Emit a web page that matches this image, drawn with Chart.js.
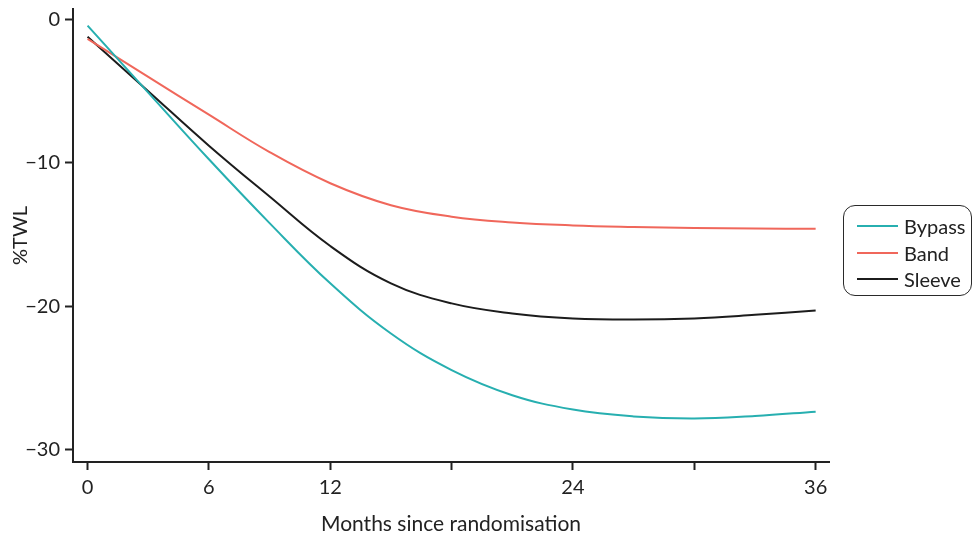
<!DOCTYPE html>
<html>
<head>
<meta charset="utf-8">
<script src="https://cdn.jsdelivr.net/npm/chart.js@4/dist/chart.umd.min.js"></script>
<style>
  html, body { margin: 0; padding: 0; background: #fff; }
  #wrap { position: relative; width: 975px; height: 544px; }
  #legend {
    position: absolute; left: 843px; top: 205px; width: 129px; height: 91px;
    border: 1.5px solid #2a2a2a; border-radius: 12px; box-sizing: border-box;
    font-family: Lato, sans-serif; font-size: 20px; color: #222;
  }
  .item { position: absolute; left: 13px; height: 24px; display: flex; align-items: center; }
  .swatch { width: 41px; height: 2px; margin-right: 6px; }
</style>
</head>
<body>
<div id="wrap">
  <canvas id="c" width="975" height="544"></canvas>
  <div id="legend"></div>
</div>
<script>
const months = [0, 3, 6, 9, 12, 15, 18, 21, 24, 27, 30, 33, 36];
const bypass = [-0.43, -5.1, -9.75, -14.2, -18.4, -21.9, -24.45, -26.2, -27.2, -27.68, -27.83, -27.65, -27.35];
const band   = [-1.36, -4.0, -6.64, -9.25, -11.42, -12.95, -13.75, -14.15, -14.36, -14.47, -14.54, -14.58, -14.6];
const sleeve = [-1.2, -5.0, -8.8, -12.35, -15.8, -18.4, -19.8, -20.5, -20.85, -20.93, -20.85, -20.6, -20.3];
const seriesNames = ['Bypass', 'Band', 'Sleeve'];
const seriesColors = ['#27afb0', '#f0675b', '#1c1c1c'];
const xTicks = [0, 6, 12, 18, 24, 30, 36];
const xLabelled = [0, 6, 12, 24, 36];
const yTicks = [0, -10, -20, -30];

const allSeries = [bypass, band, sleeve];
const datasets = allSeries.map((vals, i) => ({
  label: seriesNames[i],
  data: months.map((m, j) => ({ x: m, y: vals[j] })),
  borderColor: seriesColors[i],
  backgroundColor: seriesColors[i],
  borderWidth: 2,
  pointRadius: 0,
  fill: false,
  tension: 0.4
}));

const axisColor = '#222';
const fontFamily = 'Lato, sans-serif';

new Chart(document.getElementById('c'), {
  type: 'line',
  data: { datasets },
  options: {
    responsive: false,
    animation: false,
    layout: { padding: { top: 9, right: 146, bottom: 0, left: 0 } },
    plugins: { legend: { display: false }, tooltip: { enabled: false } },
    scales: {
      x: {
        type: 'linear',
        min: -0.72, max: 36.66,
        afterBuildTicks: (s) => { s.ticks = xTicks.map(v => ({ value: v })); },
        afterFit: (s) => { s.height = 82; s.paddingLeft = 0; s.paddingRight = 0; },
        ticks: {
          autoSkip: false, maxRotation: 0,
          color: '#222', padding: 6,
          font: { family: fontFamily, size: 20 },
          callback: (v) => xLabelled.includes(v) ? String(v) : ''
        },
        grid: { drawOnChartArea: false, drawTicks: true, tickLength: 8, tickWidth: 2, tickColor: axisColor },
        border: { display: true, color: axisColor, width: 2 },
        title: { display: true, text: 'Months since randomisation', color: '#222',
                 font: { family: fontFamily, size: 21 }, padding: { top: 0, bottom: 7 } }
      },
      y: {
        type: 'linear',
        min: -30.86, max: 0.73,
        afterBuildTicks: (s) => { s.ticks = yTicks.map(v => ({ value: v })); },
        afterFit: (s) => { s.width = 73; s.paddingTop = 0; s.paddingBottom = 0; },
        ticks: {
          autoSkip: false, color: '#222', padding: 5,
          font: { family: fontFamily, size: 20 },
          callback: (v) => v < 0 ? '\u2212' + Math.abs(v) : String(v)
        },
        grid: { drawOnChartArea: false, drawTicks: true, tickLength: 8, tickWidth: 2, tickColor: axisColor },
        border: { display: true, color: axisColor, width: 2 },
        title: { display: true, text: '%TWL', color: '#222',
                 font: { family: fontFamily, size: 20 }, padding: { top: 9, bottom: 0 } }
      }
    }
  }
});

const legend = document.getElementById('legend');
const rowTops = [8, 35, 61];
seriesNames.forEach((name, i) => {
  const row = document.createElement('div');
  row.className = 'item';
  row.style.top = rowTops[i] + 'px';
  const sw = document.createElement('div');
  sw.className = 'swatch';
  sw.style.background = seriesColors[i];
  const tx = document.createElement('span');
  tx.textContent = name;
  row.appendChild(sw);
  row.appendChild(tx);
  legend.appendChild(row);
});
</script>
</body>
</html>
